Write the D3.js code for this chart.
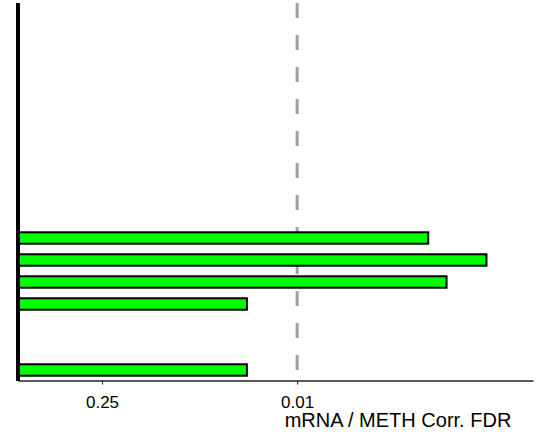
<!DOCTYPE html>
<html>
<head>
<meta charset="utf-8">
<script src="https://cdn.jsdelivr.net/npm/d3@7"></script>
<style>
  body { margin: 0; background: #fff; }
  text { font-family: "Liberation Sans", Arial, sans-serif; fill: #000; }
</style>
</head>
<body>
<script>
"use strict"

/* categorie dall'alto verso il basso (le vuote non hanno barra) */
const categorie = d3.range(1, 18).map(function (i) { return "r" + i });
/* FDR per categoria, null = nessuna barra */
const valoriFDR = [null, null, null, null, null, null, null, null, null, null,
    0.00115, 0.00044, 0.00085, 0.0229, null, null, 0.0229];
/* tacche dell'asse x */
const tacche = [0.25, 0.01];
const sogliaFDR = 0.01;
const titoloX = "mRNA / METH Corr. FDR";

const grafico = { larghezza: 560, altezza: 444 };

const svg = d3.select("body")
    .append("svg")
    .attr("width", grafico.larghezza)
    .attr("height", grafico.altezza);

/* scala -log10(FDR) */
const x = d3.scaleLinear()
    .domain([0, 3.69])
    .range([18, 533]);
function mlog(v) { return -Math.log10(v) }

const y = d3.scaleBand()
    .domain(categorie)
    .range([7, 381])
    .paddingInner(0.48)
    .paddingOuter(0.24);

const dati = categorie.map(function (c, i) {
    return { cat: c, fdr: valoriFDR[i] }
}).filter(function (d) { return d.fdr != null });

/* linea di soglia tratteggiata */
svg.append("line")
    .attr("x1", x(mlog(sogliaFDR)))
    .attr("x2", x(mlog(sogliaFDR)))
    .attr("y1", 3)
    .attr("y2", 378)
    .attr("stroke", "#a0a0a0")
    .attr("stroke-width", 3)
    .attr("stroke-dasharray", "15,17");

/* barre */
svg.selectAll("rect.barra")
    .data(dati)
    .enter()
    .append("rect")
    .attr("class", "barra")
    .attr("x", x(0))
    .attr("y", function (d) { return y(d.cat) })
    .attr("width", function (d) { return x(mlog(d.fdr)) - x(0) })
    .attr("height", y.bandwidth())
    .attr("fill", "#00ff00")
    .attr("stroke", "#000")
    .attr("stroke-width", 2);

/* asse x */
const asseX = d3.axisBottom(x)
    .tickValues(tacche.map(mlog))
    .tickFormat(function (d, i) { return String(tacche[i]) })
    .tickSize(4)
    .tickSizeOuter(0);
const gx = svg.append("g")
    .attr("transform", "translate(0,380.5)")
    .call(asseX);
gx.select(".domain").attr("stroke", "#222").attr("stroke-width", 1.5);
gx.selectAll(".tick line").attr("stroke", "#222");
gx.selectAll(".tick text")
    .attr("y", 15)
    .attr("dy", "0.71em")
    .style("font-size", "17px")
    .style("font-family", "'Liberation Sans', Arial, sans-serif");

/* asse y: solo la linea spessa */
svg.append("line")
    .attr("x1", 18).attr("x2", 18)
    .attr("y1", 3).attr("y2", 381)
    .attr("stroke", "#000")
    .attr("stroke-width", 4);

svg.append("text")
    .attr("x", 398)
    .attr("y", 427)
    .attr("text-anchor", "middle")
    .style("font-size", "20px")
    .text(titoloX);
</script>
</body>
</html>
